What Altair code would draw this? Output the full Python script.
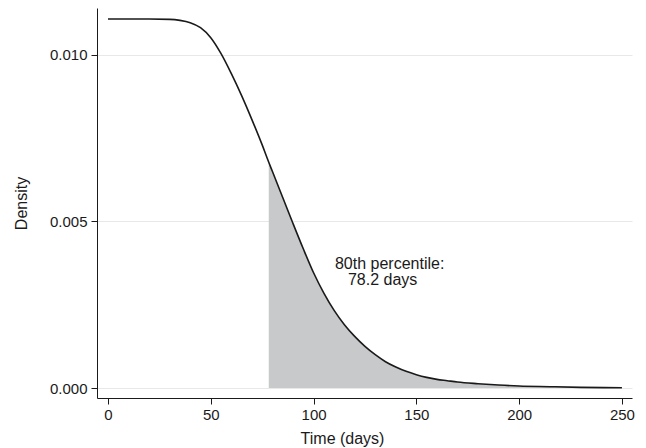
import altair as alt
import pandas as pd

# Density curve
time_days = [0, 20, 30, 35, 40, 45, 50, 55, 60, 65, 70, 75, 78.2, 80, 85, 90, 95,
             100, 105, 110, 115, 120, 125, 130, 135, 140, 145, 150, 155, 160, 165,
             170, 180, 190, 200, 215, 230, 250]
density = [0.01108, 0.01108, 0.01107, 0.01104, 0.01097, 0.01082, 0.01052, 0.01004,
           0.00944, 0.00878, 0.00806, 0.00730, 0.00678, 0.00650, 0.00572, 0.00494,
           0.00418, 0.00346, 0.00285, 0.00233, 0.00190, 0.00155, 0.00125, 0.00100,
           0.00079, 0.00063, 0.00050, 0.00040, 0.00032, 0.00026, 0.00022, 0.00018,
           0.00013, 0.00009, 0.00006, 0.00004, 0.00002, 0.00001]

percentile_80 = 78.2
x_ticks = [0, 50, 100, 150, 200, 250]
y_ticks = [0.0, 0.005, 0.010]

annot_lines = ["80th percentile:", "78.2 days"]
annot_x = [110.4, 116.7]
annot_y = [0.00357, 0.00309]

df = pd.DataFrame({"t": time_days, "d": density})
df_area = df[df["t"] >= percentile_80]
df_text = pd.DataFrame({"label": annot_lines, "t": annot_x, "d": annot_y})

FONT = "Liberation Sans"
INK = "#1a1a1a"

x_scale = alt.Scale(domain=[-5.35, 254.9], nice=False, zero=False)
y_scale = alt.Scale(domain=[-0.0003, 0.011411], nice=False, zero=False)

x_axis = alt.Axis(values=x_ticks, format="d", grid=False, title="Time (days)",
                  tickSize=6, labelPadding=3, labelFontSize=15, titleFontSize=16,
                  titleFontWeight="normal", titleX=245, titleY=45,
                  titleBaseline="alphabetic", domainColor=INK,
                  tickColor=INK, labelColor=INK, titleColor=INK)
y_axis = alt.Axis(values=y_ticks, format=".3f", grid=True, gridColor="#e8e8e8",
                  title="Density", tickSize=6, labelPadding=4, labelFontSize=15,
                  titleFontSize=16, titleFontWeight="normal", titleX=-71,
                  titleY=195, titleBaseline="alphabetic", titleAngle=-90,
                  domainColor=INK, tickColor=INK,
                  labelColor=INK, titleColor=INK)

area = alt.Chart(df_area).mark_area(color="#c8c9cb", opacity=1,
                                    interpolate="monotone").encode(
    x=alt.X("t:Q", scale=x_scale, axis=x_axis),
    y=alt.Y("d:Q", scale=y_scale, axis=y_axis),
)

line = alt.Chart(df).mark_line(color=INK, strokeWidth=1.6,
                               interpolate="monotone").encode(
    x=alt.X("t:Q", scale=x_scale),
    y=alt.Y("d:Q", scale=y_scale),
)

text = alt.Chart(df_text).mark_text(align="left", baseline="alphabetic",
                                    fontSize=16, font=FONT,
                                    color=INK).encode(
    x=alt.X("t:Q", scale=x_scale),
    y=alt.Y("d:Q", scale=y_scale),
    text="label:N",
)

chart = alt.layer(area, line, text).properties(
    width=535, height=390,
    autosize=alt.AutoSizeParams(type="none"),
    padding={"left": 89, "top": 0, "right": 6, "bottom": 50},
).configure(font=FONT).configure_view(stroke=None).configure_axis(
    labelFont=FONT, titleFont=FONT
)

chart.save("out.html", embed_options={"renderer": "svg", "actions": False})
